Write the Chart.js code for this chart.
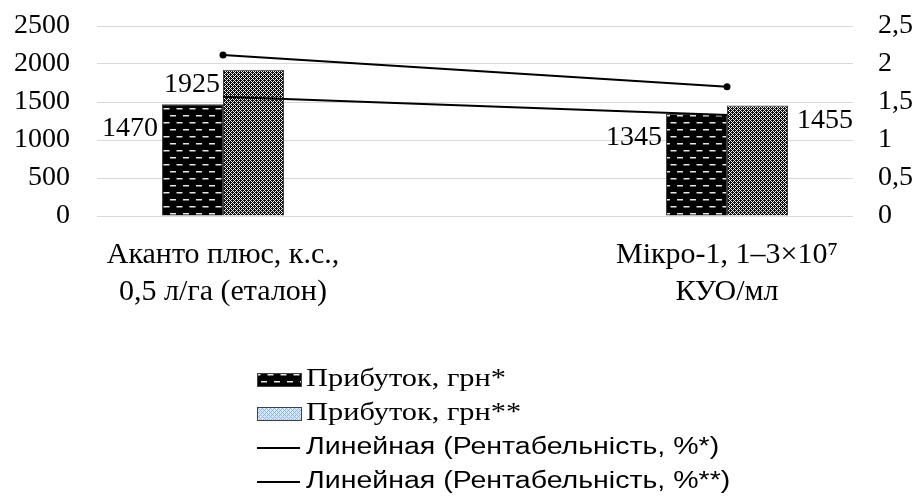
<!DOCTYPE html>
<html lang="uk">
<head>
    <meta charset="utf-8">
    <title>Прибуток і рентабельність</title>
    <script src="https://cdn.jsdelivr.net/npm/chart.js"></script>
    <style>
        html, body { margin: 0; padding: 0; background: #fff; }
        #wrap { width: 919px; height: 503px; }
    </style>
</head>
<body>
    <div id="wrap"><canvas id="profitChart" width="919" height="503"></canvas></div>
    <script>
        // дані з діаграми
        var categories = [['Аканто плюс, к.с.,', '0,5 л/га (еталон)'], ['Мікро-1, 1–3×10⁷', 'КУО/мл']];
        var profit1 = [1470, 1345];      // Прибуток, грн*
        var profit2 = [1925, 1455];      // Прибуток, грн**
        var rent1 = [2.12, 1.70];        // Рентабельність, %*
        var rent2 = [1.57, 1.33];        // Рентабельність, %**
        var leftTicks = [0, 500, 1000, 1500, 2000, 2500];
        var rightTicks = [0, 0.5, 1, 1.5, 2, 2.5];
        var legendNames = ['Прибуток, грн*', 'Прибуток, грн**', 'Линейная (Рентабельність, %*)', 'Линейная (Рентабельність, %**)'];

        // порожня категорія посередині, щоб групи стояли як в оригіналі
        function withGap(arr) { return [arr[0], null, arr[1]]; }

        var FONT = 'Liberation Serif';
        var SANS = 'Liberation Sans';

        function dashPattern() {
            var c = document.createElement('canvas'); c.width = 13; c.height = 14;
            var g = c.getContext('2d');
            g.fillStyle = '#000'; g.fillRect(0, 0, 13, 14);
            g.fillStyle = '#e6e6e6';
            g.fillRect(1, 3, 6, 1.5);
            g.fillRect(7.5, 10, 6, 1.5);
            g.fillRect(-5.5, 10, 6, 1.5);
            return g.createPattern(c, 'repeat');
        }

        function dotPattern(bg, fg) {
            var c = document.createElement('canvas'); c.width = 4; c.height = 4;
            var g = c.getContext('2d');
            g.fillStyle = bg; g.fillRect(0, 0, 4, 4);
            g.fillStyle = fg;
            [[2, 0], [1, 1], [3, 1], [0, 2], [1, 3], [3, 3]].forEach(function (p) { g.fillRect(p[0], p[1], 1, 1); });
            return g.createPattern(c, 'repeat');
        }

        var pat1 = dashPattern();
        var pat2 = dotPattern('#111', '#e8e8e8');
        var pat2Legend = dotPattern('#dbe8f6', '#8fb4de');

        // підписи значень біля стовпців
        var barLabels = {
            id: 'barLabels',
            afterDatasetsDraw: function (chart) {
                var ctx = chart.ctx;
                ctx.save();
                ctx.font = '28px "' + FONT + '"';
                ctx.fillStyle = '#000';
                ctx.textBaseline = 'middle';
                [0, 1].forEach(function (di) {
                    var meta = chart.getDatasetMeta(di);
                    meta.data.forEach(function (bar, i) {
                        var v = chart.data.datasets[di].data[i];
                        if (v == null) return;
                        var left = bar.x - bar.width / 2, right = bar.x + bar.width / 2;
                        if (di === 0) {
                            ctx.textAlign = 'right';
                            ctx.fillText(v, left - 4, bar.y + 24);
                        } else if (i === 0) {
                            ctx.textAlign = 'right';
                            ctx.fillText(v, left - 3, bar.y + 15);
                        } else {
                            ctx.textAlign = 'left';
                            ctx.fillText(v, right + 9, bar.y + 15);
                        }
                    });
                });
                ctx.restore();
            }
        };

        // легенда в один стовпчик (текст трохи розтягнутий по ширині, як в оригіналі)
        var stackLegend = {
            id: 'stackLegend',
            afterDraw: function (chart) {
                var ctx = chart.ctx;
                var x0 = 257, y0 = chart.chartArea.bottom + 164, step = 34, stretch = 1.24;
                ctx.save();
                ctx.textBaseline = 'middle';
                ctx.textAlign = 'left';
                legendNames.forEach(function (name, i) {
                    var y = y0 + i * step;
                    if (i < 2) {
                        ctx.fillStyle = i === 0 ? pat1 : pat2Legend;
                        ctx.fillRect(x0, y - 7, 45, 14);
                        ctx.strokeStyle = '#404040';
                        ctx.lineWidth = 1;
                        ctx.strokeRect(x0 + 0.5, y - 6.5, 44, 13);
                    } else {
                        ctx.strokeStyle = '#000';
                        ctx.lineWidth = 2;
                        ctx.beginPath(); ctx.moveTo(x0, y); ctx.lineTo(x0 + 43, y); ctx.stroke();
                    }
                    ctx.save();
                    ctx.translate(x0 + 49, y);
                    ctx.scale(stretch, 1);
                    ctx.font = i < 2 ? '24.5px "' + FONT + '"' : '23px "' + SANS + '"';
                    ctx.fillStyle = '#000';
                    ctx.fillText(name, 0, 0);
                    ctx.restore();
                });
                ctx.restore();
            }
        };

        // вертикальні осі не повинні відсувати область графіка вниз
        function fixYAxis(width) {
            return function (s) {
                s.width = width;
                s.paddingTop = 0;
                s.paddingBottom = 0;
            };
        }

        var ctx = document.getElementById('profitChart').getContext('2d');
        var myChart = new Chart(ctx, {
            type: 'bar',
            data: {
                labels: [categories[0], '', categories[1]],
                datasets: [
                    { label: legendNames[0], data: withGap(profit1), backgroundColor: pat1, borderColor: '#404040', borderWidth: 1, yAxisID: 'y', order: 2, categoryPercentage: 0.484, barPercentage: 1 },
                    { label: legendNames[1], data: withGap(profit2), backgroundColor: pat2, borderColor: '#404040', borderWidth: 1, yAxisID: 'y', order: 2, categoryPercentage: 0.484, barPercentage: 1 },
                    { type: 'line', label: legendNames[2], data: withGap(rent1), borderColor: '#000', borderWidth: 2, pointRadius: 3.5, pointBackgroundColor: '#000', pointBorderWidth: 0, spanGaps: true, yAxisID: 'y1', order: 0 },
                    { type: 'line', label: legendNames[3], data: withGap(rent2), borderColor: '#000', borderWidth: 2, pointRadius: 0, spanGaps: true, yAxisID: 'y1', order: 0 }
                ]
            },
            options: {
                responsive: false,
                animation: false,
                layout: { padding: { top: 26, left: 0, right: 0, bottom: 0 } },
                plugins: {
                    legend: { display: false },
                    tooltip: { enabled: false }
                },
                scales: {
                    x: {
                        offset: true,
                        grid: { display: false, drawTicks: false },
                        border: { display: false },
                        ticks: { color: '#000', font: { family: FONT, size: 30, lineHeight: 1.25 }, padding: 20, maxRotation: 0, autoSkip: false },
                        afterFit: function (s) { s.height = 287; }
                    },
                    y: {
                        position: 'left',
                        min: 0, max: 2500,
                        afterBuildTicks: function (s) { s.ticks = leftTicks.map(function (v) { return { value: v }; }); },
                        grid: { color: '#d9d9d9', lineWidth: 1, drawTicks: false },
                        border: { display: false },
                        ticks: { color: '#000', font: { family: FONT, size: 28 }, padding: 27, autoSkip: false, callback: function (v) { return String(v); } },
                        afterFit: fixYAxis(97)
                    },
                    y1: {
                        position: 'right',
                        min: 0, max: 2.5,
                        afterBuildTicks: function (s) { s.ticks = rightTicks.map(function (v) { return { value: v }; }); },
                        grid: { display: false, drawTicks: false },
                        border: { display: false },
                        ticks: {
                            color: '#000', font: { family: FONT, size: 28 }, padding: 25, autoSkip: false,
                            callback: function (v) { return String(v).replace('.', ','); }
                        },
                        afterFit: fixYAxis(66)
                    }
                }
            },
            plugins: [barLabels, stackLegend]
        });
    </script>
</body>
</html>
